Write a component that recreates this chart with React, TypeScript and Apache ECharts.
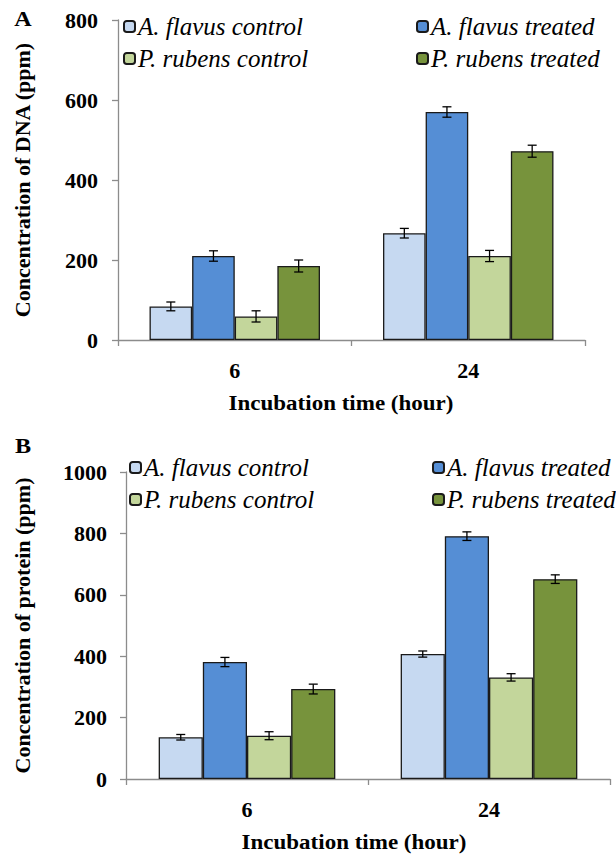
import React, { useEffect, useRef } from "react";
import * as echarts from "echarts";

const categories = ["6", "24"];
const seriesNames = ["A. flavus control", "A. flavus treated", "P. rubens control", "P. rubens treated"];
const colors = ["#c6d9f1", "#558ed5", "#c3d69b", "#77933c"];

// Chart A: DNA (ppm)
const dnaValues = [
  [84, 267],
  [210, 570],
  [59, 210],
  [185, 472],
];
const dnaErrors = [
  [11, 12],
  [13, 13],
  [14, 14],
  [15, 15],
];

// Chart B: protein (ppm)
const proteinValues = [
  [136, 407],
  [381, 791],
  [141, 331],
  [293, 651],
];
const proteinErrors = [
  [9, 10],
  [15, 14],
  [13, 12],
  [16, 14],
];

const dnaTicks = { min: 0, max: 800, interval: 200 };
const proteinTicks = { min: 0, max: 1000, interval: 200 };

const FONT = "'Liberation Serif', 'Times New Roman', serif";
const GAP = 0.27;
const AXIS_COLOR = "#8c8c8c";

function errorRender(params: any, api: any) {
  const ci = api.value(0);
  const v = api.value(1);
  const e = api.value(2);
  const si = api.value(3);
  const c = api.coord([ci, v]);
  const band = api.size([1, 0])[0];
  const bw = (band * (1 - GAP)) / 4;
  const x = c[0] + (si - 1.5) * bw;
  const yt = api.coord([ci, v + e])[1];
  const yb = api.coord([ci, v - e])[1];
  const style = { stroke: "#000", lineWidth: 1.3 };
  const cap = 4.5;
  return {
    type: "group",
    children: [
      { type: "line", shape: { x1: x, y1: yt, x2: x, y2: yb }, style },
      { type: "line", shape: { x1: x - cap, y1: yt, x2: x + cap, y2: yt }, style },
      { type: "line", shape: { x1: x - cap, y1: yb, x2: x + cap, y2: yb }, style },
    ],
  };
}

export default function App() {
  const ref = useRef<HTMLDivElement>(null);
  useEffect(() => {
    if (!ref.current) return;
    const chart = echarts.init(ref.current, null, { renderer: "svg" });

    const grids = [
      { left: 118, right: 31, top: 20, height: 320 },
      { left: 126, right: 6, top: 472, height: 307 },
    ];
    const xAxes = grids.map((_, gi) => ({
      type: "category",
      gridIndex: gi,
      data: categories,
      boundaryGap: true,
      axisLine: { lineStyle: { color: AXIS_COLOR, width: 1.3 } },
      axisTick: { show: true, length: 6, lineStyle: { color: AXIS_COLOR, width: 1.3 } },
      axisLabel: { margin: 19, color: "#000", fontFamily: FONT, fontWeight: "bold", fontSize: 22 },
    }));
    const ticks = [dnaTicks, proteinTicks];
    const yNames = ["Concentration of DNA (ppm)", "Concentration of protein (ppm)"];
    const yAxes = grids.map((_, gi) => ({
      type: "value",
      gridIndex: gi,
      min: ticks[gi].min,
      max: ticks[gi].max,
      interval: ticks[gi].interval,
      splitLine: { show: false },
      axisLine: { show: true, lineStyle: { color: AXIS_COLOR, width: 1.3 } },
      axisTick: { show: true, length: 6, lineStyle: { color: AXIS_COLOR, width: 1.3 } },
      axisLabel: {
        margin: gi === 0 ? 20 : 19,
        color: "#000",
        fontFamily: FONT,
        fontWeight: "bold",
        fontSize: 22,
        formatter: (v: number) => String(v),
      },
      name: yNames[gi],
      nameLocation: "middle",
      nameRotate: 90,
      nameGap: gi === 0 ? 85 : 93,
      nameTextStyle: { color: "#000", fontFamily: FONT, fontWeight: "bold", fontSize: 22 },
    }));

    const allValues = [dnaValues, proteinValues];
    const allErrors = [dnaErrors, proteinErrors];
    const series: any[] = [];
    for (let gi = 0; gi < 2; gi++) {
      seriesNames.forEach((name, si) => {
        series.push({
          type: "bar",
          name,
          xAxisIndex: gi,
          yAxisIndex: gi,
          data: allValues[gi][si],
          barGap: "0%",
          barCategoryGap: GAP * 100 + "%",
          itemStyle: { color: colors[si], borderColor: "#1a1a1a", borderWidth: 1.3 },
        });
      });
      const errData: number[][] = [];
      seriesNames.forEach((_, si) => {
        categories.forEach((__, ci) => {
          errData.push([ci, allValues[gi][si][ci], allErrors[gi][si][ci], si]);
        });
      });
      series.push({
        type: "custom",
        xAxisIndex: gi,
        yAxisIndex: gi,
        z: 10,
        data: errData,
        renderItem: errorRender,
        silent: true,
      });
    }

    const legendPos = [
      [
        { left: 123, top: 14 },
        { left: 416, top: 14 },
        { left: 123, top: 46 },
        { left: 416, top: 46 },
      ],
      [
        { left: 129, top: 455 },
        { left: 432, top: 455 },
        { left: 129, top: 487 },
        { left: 432, top: 487 },
      ],
    ];
    const legends: any[] = [];
    legendPos.forEach((arr) => {
      arr.forEach((p, si) => {
        legends.push({
          data: [seriesNames[si]],
          left: p.left,
          top: p.top,
          padding: 0,
          itemWidth: 11,
          itemHeight: 11,
          itemGap: 0,
          selectedMode: false,
          textStyle: { fontFamily: FONT, fontStyle: "italic", fontSize: 25, color: "#000", padding: [0, 0, 0, -2] },
        });
      });
    });

    const SX = 1.15;
    chart.setOption({
      animation: false,
      backgroundColor: "#fff",
      grid: grids,
      xAxis: xAxes,
      yAxis: yAxes,
      legend: legends,
      series,
      graphic: [
        {
          type: "text",
          x: 23,
          y: 19,
          scaleX: SX,
          style: { text: "A", font: `bold 21px ${FONT}`, fill: "#000", align: "center", verticalAlign: "middle" },
        },
        {
          type: "text",
          x: 23,
          y: 446,
          scaleX: SX,
          style: { text: "B", font: `bold 21px ${FONT}`, fill: "#000", align: "center", verticalAlign: "middle" },
        },
        {
          type: "text",
          x: 341,
          y: 404,
          scaleX: SX,
          style: { text: "Incubation time (hour)", font: `bold 20px ${FONT}`, fill: "#000", align: "center", verticalAlign: "middle" },
        },
        {
          type: "text",
          x: 354,
          y: 843,
          scaleX: SX,
          style: { text: "Incubation time (hour)", font: `bold 20px ${FONT}`, fill: "#000", align: "center", verticalAlign: "middle" },
        },
      ],
    });
    return () => chart.dispose();
  }, []);
  return <div ref={ref} style={{ width: 616, height: 854, position: "absolute", left: 0, top: 0 }} />;
}
